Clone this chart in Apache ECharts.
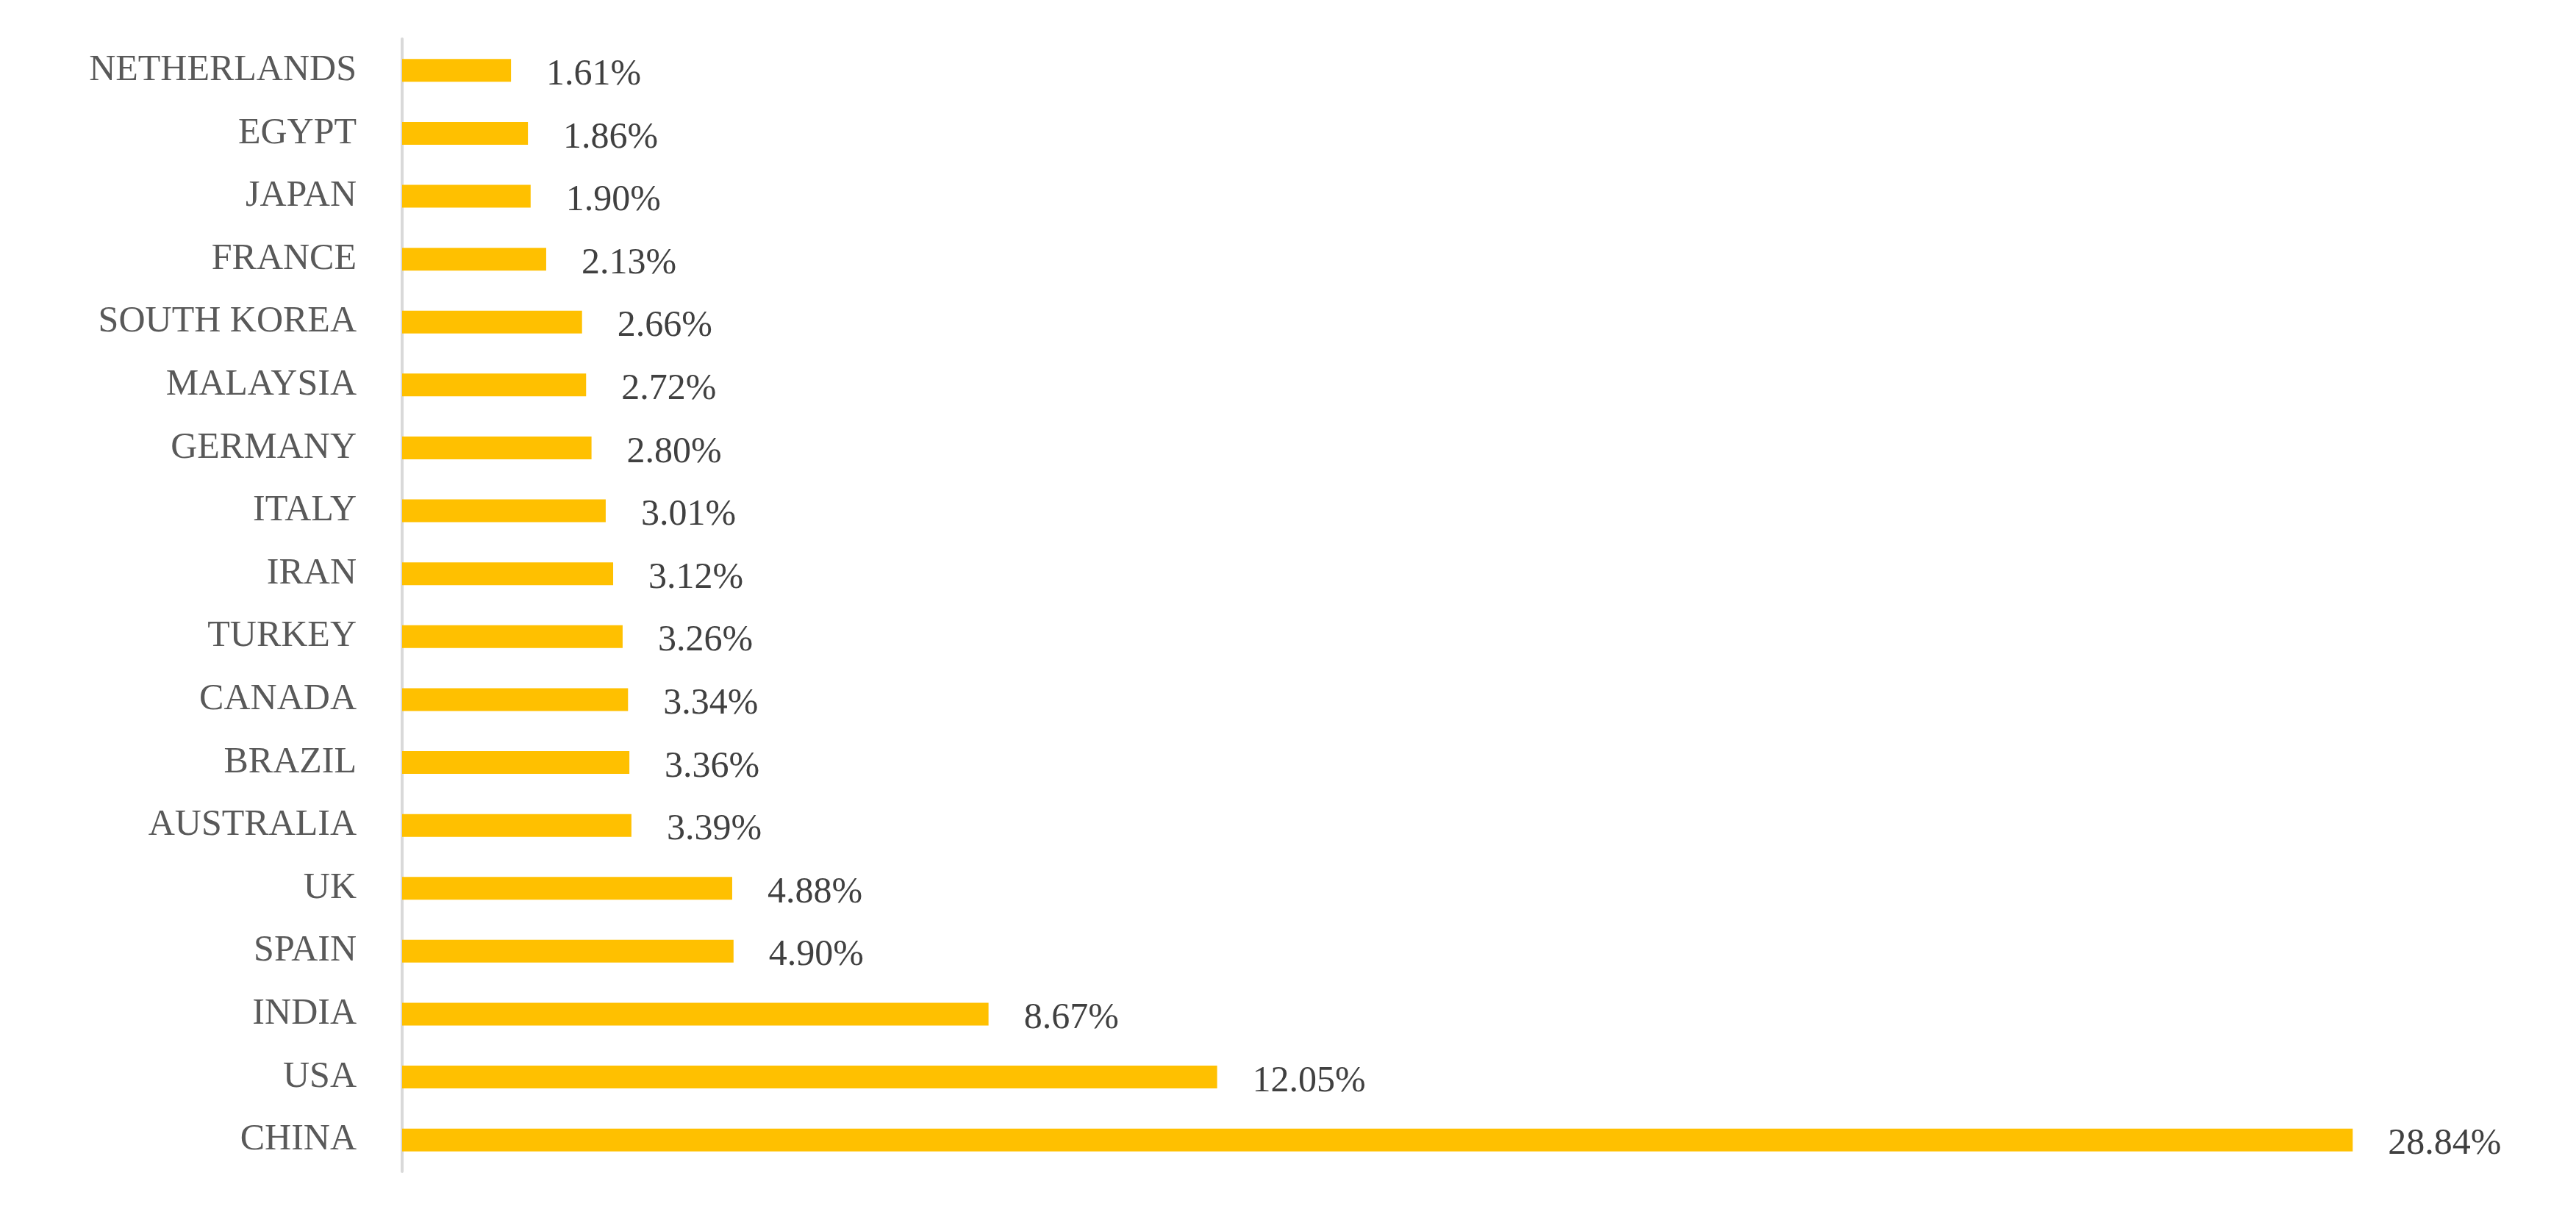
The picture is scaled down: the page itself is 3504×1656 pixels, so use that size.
<!DOCTYPE html>
<html>
<head>
<meta charset="utf-8">
<script src="https://cdn.jsdelivr.net/npm/echarts@6/dist/echarts.min.js"></script>
<style>
  html, body { margin: 0; padding: 0; background: #fff; }
  #chart { width: 3504px; height: 1656px; }
</style>
</head>
<body>
<div id="chart"></div>
<script>
// bottom to top, as the category axis draws them
const countries = ['CHINA', 'USA', 'INDIA', 'SPAIN', 'UK', 'AUSTRALIA', 'BRAZIL', 'CANADA', 'TURKEY',
  'IRAN', 'ITALY', 'GERMANY', 'MALAYSIA', 'SOUTH KOREA', 'FRANCE', 'JAPAN', 'EGYPT', 'NETHERLANDS']
const shares = [28.84, 12.05, 8.67, 4.90, 4.88, 3.39, 3.36, 3.34, 3.26,
  3.12, 3.01, 2.80, 2.72, 2.66, 2.13, 1.90, 1.86, 1.61]

const chart = echarts.init(document.getElementById('chart'))

chart.setOption({
  animation: false,
  backgroundColor: '#ffffff',
  grid: { left: 547, right: 197, top: 53, bottom: 62 },
  xAxis: {
    type: 'value',
    min: 0,
    max: 30,
    show: false
  },
  yAxis: {
    type: 'category',
    data: countries,
    axisLine: { show: true, lineStyle: { color: '#d9d9d9', width: 4 } },
    axisTick: { show: false },
    axisLabel: {
      color: '#595959',
      fontFamily: 'Liberation Serif',
      fontSize: 50,
      margin: 62
    }
  },
  series: [
    {
      type: 'bar',
      data: shares,
      barWidth: 31,
      itemStyle: { color: '#FFC000' },
      label: {
        show: true,
        position: 'right',
        distance: 48,
        offset: [0, 6],
        color: '#404040',
        fontFamily: 'Liberation Serif',
        fontSize: 50,
        formatter: p => p.value.toFixed(2) + '%'
      }
    }
  ]
})
</script>
</body>
</html>
